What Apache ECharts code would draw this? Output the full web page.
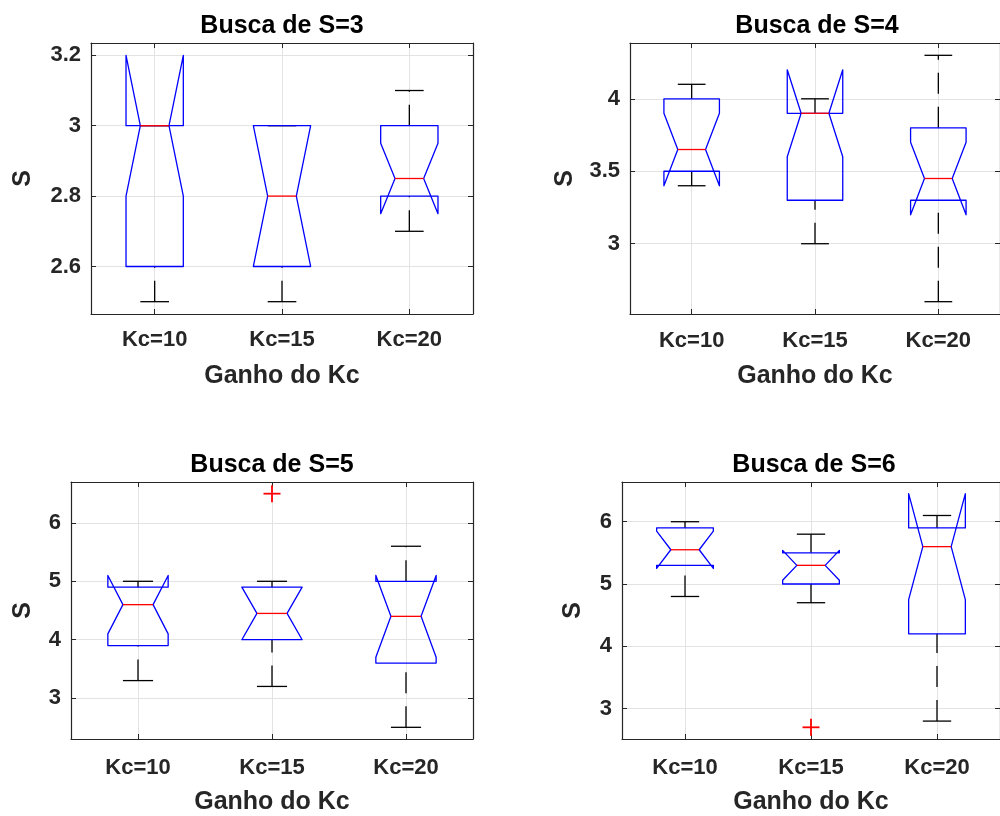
<!DOCTYPE html>
<html><head><meta charset="utf-8">
<script src="https://cdn.jsdelivr.net/npm/echarts@6/dist/echarts.min.js"></script>
<style>html,body{margin:0;padding:0;background:#fff}#c{width:1000px;height:816px}</style>
</head><body><div id="c"></div>
<script>
// ---------- data ----------
const categories = ['Kc=10', 'Kc=15', 'Kc=20'];
const titles = ['Busca de S=3', 'Busca de S=4', 'Busca de S=5', 'Busca de S=6'];
const xName = 'Ganho do Kc';
const yName = 'S';
// each row (one per category): [lowerWhisker, q1, notchLow, median, notchHigh, q3, upperWhisker]
const boxesS3 = [
  [2.5, 2.6, 2.8, 3.0, 3.2, 3.0, 3.0],
  [2.5, 2.6, 2.6, 2.8, 3.0, 3.0, 3.0],
  [2.7, 2.8, 2.75, 2.85, 2.95, 3.0, 3.1]
];
const boxesS4 = [
  [3.4, 3.5, 3.4, 3.65, 3.9, 4.0, 4.1],
  [3.0, 3.3, 3.6, 3.9, 4.2, 3.9, 4.0],
  [2.6, 3.3, 3.2, 3.45, 3.7, 3.8, 4.3]
];
const boxesS5 = [
  [3.3, 3.9, 4.1, 4.6, 5.1, 4.9, 5.0],
  [3.2, 4.0, 4.0, 4.45, 4.9, 4.9, 5.0],
  [2.5, 3.6, 3.7, 4.4, 5.1, 5.0, 5.6]
];
const boxesS6 = [
  [4.8, 5.3, 5.25, 5.55, 5.85, 5.9, 6.0],
  [4.7, 5.0, 5.06, 5.3, 5.54, 5.5, 5.8],
  [2.8, 4.2, 4.75, 5.6, 6.45, 5.9, 6.1]
];
// outliers: [categoryIndex, value]
const outliersS3 = [];
const outliersS4 = [];
const outliersS5 = [[1, 6.5]];
const outliersS6 = [[1, 2.7]];
const yTicksS3 = [2.6, 2.8, 3, 3.2];
const yTicksS4 = [3, 3.5, 4];
const yTicksS5 = [3, 4, 5, 6];
const yTicksS6 = [3, 4, 5, 6];
const yLimitsS3 = [2.465, 3.235];
const yLimitsS4 = [2.515, 4.385];
const yLimitsS5 = [2.3, 6.7];
const yLimitsS6 = [2.5125, 6.6375];

// ---------- layout / style ----------
const FONT = 'Liberation Sans, Arial, Helvetica, sans-serif';
const AXIS_COLOR = '#262626';
const GRID_COLOR = '#e3e3e3';
const BOX_W = 0.45;
const LW = 1.3;
const panels = [
  {boxes: boxesS3, out: outliersS3, ticks: yTicksS3, lim: yLimitsS3, left: 91, top: 43, width: 382, height: 271, xMargin: 15, xGap: 50, yGap: 55, titleTop: 14},
  {boxes: boxesS4, out: outliersS4, ticks: yTicksS4, lim: yLimitsS4, left: 630, top: 43, width: 374, height: 271, xMargin: 16, xGap: 50, yGap: 52, titleTop: 14},
  {boxes: boxesS5, out: outliersS5, ticks: yTicksS5, lim: yLimitsS5, left: 71, top: 482, width: 402, height: 261, xMargin: 18, xGap: 51, yGap: 35, titleTop: 453},
  {boxes: boxesS6, out: outliersS6, ticks: yTicksS6, lim: yLimitsS6, left: 622, top: 482, width: 384, height: 261, xMargin: 18, xGap: 51, yGap: 36, titleTop: 453}
];
const catPos = categories.map((c, i) => i + 1);

function boxRender(params, api) {
  const x = api.value(0);
  const lo = api.value(1), q1 = api.value(2), nlo = api.value(3), med = api.value(4),
        nhi = api.value(5), q3 = api.value(6), hi = api.value(7);
  const cx = api.coord([x, med])[0];
  const Y = v => api.coord([x, v])[1];
  const bw = api.size([1, 0])[0] * BOX_W;
  const L = cx - bw / 2, R = cx + bw / 2, ins = bw / 4;
  const whisk = {stroke: '#000', fill: null, lineWidth: LW, lineDash: [21, 13]};
  const cap = {stroke: '#000', fill: null, lineWidth: LW};
  return {
    type: 'group',
    children: [
      {type: 'polyline', shape: {points: [[cx, Y(lo)], [cx, Y(q1)]]}, style: whisk},
      {type: 'polyline', shape: {points: [[cx, Y(q3)], [cx, Y(hi)]]}, style: whisk},
      {type: 'polyline', shape: {points: [[cx - ins, Y(lo)], [cx + ins, Y(lo)]]}, style: cap},
      {type: 'polyline', shape: {points: [[cx - ins, Y(hi)], [cx + ins, Y(hi)]]}, style: cap},
      {type: 'polygon', shape: {points: [
        [L, Y(q1)], [L, Y(nlo)], [L + ins, Y(med)], [L, Y(nhi)], [L, Y(q3)],
        [R, Y(q3)], [R, Y(nhi)], [R - ins, Y(med)], [R, Y(nlo)], [R, Y(q1)]
      ]}, style: {stroke: '#0000ff', fill: null, lineWidth: LW, lineJoin: 'round'}},
      {type: 'polyline', shape: {points: [[L + ins, Y(med)], [R - ins, Y(med)]]}, style: {stroke: '#ff0000', fill: null, lineWidth: LW}}
    ]
  };
}
function outRender(params, api) {
  const p = api.coord([api.value(0), api.value(1)]);
  const h = 8.5;
  const st = {stroke: '#ff0000', fill: null, lineWidth: 1.8};
  return {type: 'group', children: [
    {type: 'line', shape: {x1: p[0] - h, y1: p[1], x2: p[0] + h, y2: p[1]}, style: st},
    {type: 'line', shape: {x1: p[0], y1: p[1] - h, x2: p[0], y2: p[1] + h}, style: st}
  ]};
}

const grids = [], xAxes = [], yAxes = [], series = [], titleArr = [];
const lbl = {fontFamily: FONT, fontWeight: 'bold', color: AXIS_COLOR};
panels.forEach((p, i) => {
  grids.push({left: p.left, top: p.top, width: p.width, height: p.height, containLabel: false});
  titleArr.push({text: titles[i], left: p.left + p.width / 2, top: p.titleTop, textAlign: 'center', padding: 0,
    textStyle: {fontFamily: FONT, fontWeight: 'bold', fontSize: 25, color: '#000'}});
  const lineSt = {show: true, onZero: false, lineStyle: {color: AXIS_COLOR, width: 1.2}};
  const tickSt = {show: true, inside: true, length: 5, customValues: catPos, lineStyle: {color: AXIS_COLOR}};
  xAxes.push({gridIndex: i, type: 'value', position: 'bottom', min: 0.5, max: 3.5,
    axisLine: lineSt, axisTick: tickSt,
    axisLabel: Object.assign({customValues: catPos, margin: p.xMargin, fontSize: 22,
      formatter: v => categories[Math.round(v) - 1]}, lbl),
    splitLine: {show: true, lineStyle: {color: GRID_COLOR, width: 1}},
    name: xName, nameLocation: 'middle', nameGap: p.xGap,
    nameTextStyle: Object.assign({fontSize: 25}, lbl)});
  xAxes.push({gridIndex: i, type: 'value', position: 'top', min: 0.5, max: 3.5,
    axisLine: lineSt, axisTick: tickSt, axisLabel: {show: false}, splitLine: {show: false}});
  const yTick = {show: true, inside: true, length: 5, customValues: p.ticks, lineStyle: {color: AXIS_COLOR}};
  yAxes.push({gridIndex: i, type: 'value', position: 'left', min: p.lim[0], max: p.lim[1],
    axisLine: lineSt, axisTick: yTick,
    axisLabel: Object.assign({customValues: p.ticks, margin: 10, fontSize: 22, formatter: v => String(v)}, lbl),
    splitLine: {show: true, lineStyle: {color: GRID_COLOR, width: 1}},
    name: yName, nameLocation: 'middle', nameGap: p.yGap,
    nameTextStyle: Object.assign({fontSize: 25}, lbl)});
  yAxes.push({gridIndex: i, type: 'value', position: 'right', min: p.lim[0], max: p.lim[1],
    axisLine: lineSt, axisTick: yTick, axisLabel: {show: false}, splitLine: {show: false}});
  series.push({type: 'custom', xAxisIndex: 2 * i, yAxisIndex: 2 * i, renderItem: boxRender,
    encode: {x: 0, y: [1, 2, 3, 4, 5, 6, 7]},
    data: p.boxes.map((b, k) => [catPos[k]].concat(b)), clip: false, z: 3});
  series.push({type: 'custom', xAxisIndex: 2 * i, yAxisIndex: 2 * i, renderItem: outRender,
    encode: {x: 0, y: 1},
    data: p.out.map(o => [catPos[o[0]], o[1]]), clip: false, z: 4});
});

const chart = echarts.init(document.getElementById('c'), null, {renderer: 'canvas'});
chart.setOption({
  animation: false,
  backgroundColor: '#fff',
  title: titleArr,
  grid: grids,
  xAxis: xAxes,
  yAxis: yAxes,
  series: series
});
</script>
</body></html>
